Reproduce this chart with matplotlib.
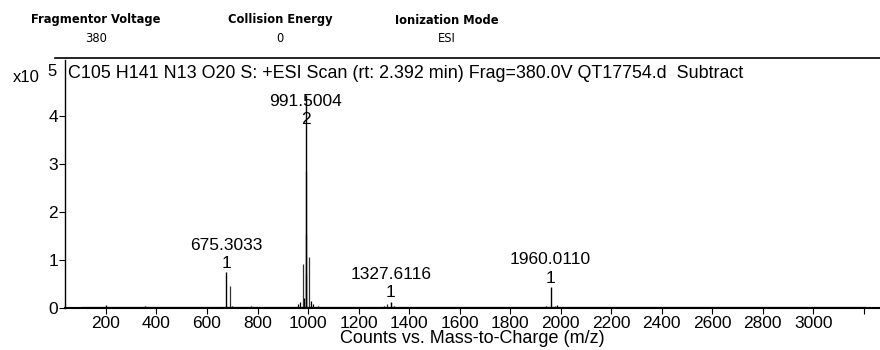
import matplotlib.pyplot as plt
from matplotlib.lines import Line2D

plt.rcParams['font.family'] = ['Liberation Sans', 'DejaVu Sans']

# acquisition header
header_names = ['Fragmentor Voltage', 'Collision Energy', 'Ionization Mode']
header_values = ['380', '0', 'ESI']

# labelled peaks: m/z, intensity (x10^5), charge
label_mz = [675.3033, 991.5004, 1327.6116, 1960.0110]
label_int = [0.75, 4.45, 0.13, 0.44]
label_charge = ['1', '2', '1', '1']

# other resolved peaks (isotopes / adducts)
other_mz = [691.3, 980.5, 992.0, 992.5, 993.0, 1002.5, 1310.6, 1976.0]
other_int = [0.45, 0.92, 2.85, 1.55, 0.70, 1.07, 0.08, 0.05]

# baseline grass
noise_mz = [150, 175, 200, 260, 355, 440, 470, 520, 590, 640, 660, 700, 775,
            960, 970, 985, 1010, 1020, 1040, 1180, 1300, 1340, 1450, 1520,
            1600, 1700, 1940, 1985, 2050, 2300, 2600, 2900]
noise_int = [0.03, 0.03, 0.06, 0.02, 0.04, 0.03, 0.03, 0.02, 0.02, 0.03, 0.03,
             0.04, 0.04, 0.08, 0.12, 0.20, 0.15, 0.08, 0.05, 0.02, 0.04, 0.05,
             0.03, 0.03, 0.02, 0.02, 0.05, 0.06, 0.03, 0.02, 0.02, 0.02]

fig = plt.figure(figsize=(8.8, 3.5), dpi=100)
ax = fig.add_axes([65 / 880, 42 / 350, 815 / 880, 248 / 350])

ax.plot([110, 3205], [0.005, 0.005], color='black', lw=1.6)
ax.vlines(noise_mz, 0, noise_int, color='black', lw=0.9)
ax.vlines(other_mz, 0, other_int, color='#333333', lw=0.9)
ax.vlines(label_mz, 0, label_int, color='black', lw=1.0)

# labels sit on the peak top, but never higher than 3.75 so they stay under the title
for mz, h, z in zip(label_mz, label_int, label_charge):
    y = min(h, 3.75)
    ax.annotate(z, (mz, y), xytext=(0, 1), textcoords='offset points',
                ha='center', va='bottom', fontsize=12.5)
    ax.annotate(f'{mz:.4f}', (mz, y), xytext=(0, 14), textcoords='offset points',
                ha='center', va='bottom', fontsize=12.5)

ax.set_xlim(38, 3264)
ax.set_ylim(0, 5.17)
ax.set_xticks(range(200, 3201, 200))
ax.set_xticklabels([str(v) if v <= 3000 else '' for v in range(200, 3201, 200)])
ax.set_yticks([0, 1, 2, 3, 4])
ax.tick_params(labelsize=12.5, length=4, width=0.8, pad=1)
ax.tick_params(axis='x', pad=2)
for side in ['top', 'right']:
    ax.spines[side].set_visible(False)
ax.spines['left'].set_linewidth(1.0)
ax.spines['bottom'].set_linewidth(1.5)

ax.set_xlabel('Counts vs. Mass-to-Charge (m/z)', fontsize=13, labelpad=-1)
ax.text(0.004, 0.945, 'C105 H141 N13 O20 S: +ESI Scan (rt: 2.392 min) '
        'Frag=380.0V QT17754.d  Subtract', transform=ax.transAxes,
        fontsize=12.9, va='center', ha='left')

# exponent marker
fig.text(13 / 880, 1 - 78 / 350, 'x10', fontsize=12, va='center', ha='left')
fig.text(47 / 880, 1 - 72 / 350, '5', fontsize=12, va='center', ha='left')

# header block
hx = [96, 280, 447]
for x, name, val in zip(hx, header_names, header_values):
    fig.text(x / 880, 1 - 20 / 350, name, fontsize=8.3, fontweight='bold',
             ha='center', va='center', family='DejaVu Sans')
    fig.text(x / 880, 1 - 39 / 350, val, fontsize=8.3,
             ha='center', va='center', family='DejaVu Sans')
fig.add_artist(Line2D([55 / 880, 1], [1 - 58 / 350] * 2, color='black', lw=1.2))

fig.savefig('out.png', dpi=100)
